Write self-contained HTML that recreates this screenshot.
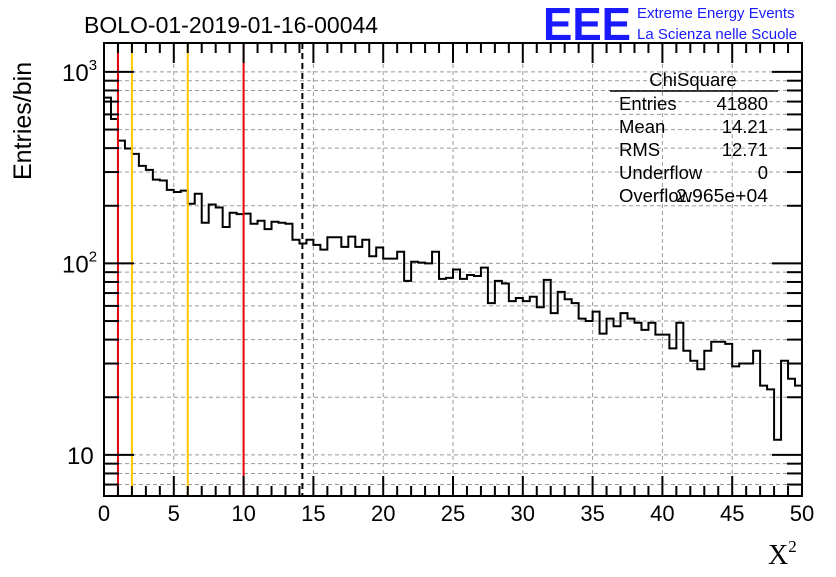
<!DOCTYPE html>
<html><head><meta charset="utf-8"><style>
body{margin:0;background:#fff;}
svg text{font-family:"Liberation Sans",sans-serif;}
</style></head><body>
<svg id="chart" width="836" height="572" xmlns="http://www.w3.org/2000/svg">
<rect width="836" height="572" fill="#fff"/>
<g id="grid"></g>
<g id="hist"></g>
<g id="vlines"></g>
<g id="axes"></g>
<text x="84" y="33" font-size="23">BOLO-01-2019-01-16-00044</text>
<text x="543" y="40" font-size="46" font-weight="bold" fill="#1a1aff" textLength="88" lengthAdjust="spacingAndGlyphs">EEE</text>
<text x="637" y="18" font-size="15" fill="#1a1aff">Extreme Energy Events</text>
<text x="637" y="39" font-size="15" fill="#1a1aff">La Scienza nelle Scuole</text>
<text transform="translate(31,180) rotate(-90)" font-size="25">Entries/bin</text>
<text x="768" y="564" font-size="28" style="font-family:'Liberation Serif',serif">X<tspan font-size="17" dy="-12">2</tspan></text>
<g font-size="18.5">
<text x="693" y="86" text-anchor="middle">ChiSquare</text>
<line x1="610" y1="91" x2="778" y2="91" stroke="#000" stroke-width="1.5"/>
<text x="619" y="110">Entries</text>
<text x="768" y="110" text-anchor="end">41880</text>
<text x="619" y="133">Mean</text>
<text x="768" y="133" text-anchor="end">14.21</text>
<text x="619" y="156">RMS</text>
<text x="768" y="156" text-anchor="end">12.71</text>
<text x="619" y="179">Underflow</text>
<text x="768" y="179" text-anchor="end">0</text>
<text x="619" y="202">Overflow</text>
<text x="676" y="202" textLength="92" lengthAdjust="spacingAndGlyphs">2.965e+04</text>
</g>
</svg>
<script>
const counts = [734,568,438,398,373,323,308,274,271,242,236,240,205,231,163,203,196,155,184,181,182,161,167,151,165,163,161,133,127,133,125,118,137,137,122,138,122,133,109,121,106,106,115,81,102,101,100,115,83,84,93,83,87,86,95,62,81,78.5,63.5,66,63.5,67,59,82,55,71,65,62,51.5,50,56,43,51.5,47,55,51.5,49,45,49,42.5,42.5,36,49,35,31,28,35,39,39,38,29,30,30,35,23,22,12,31,25,23];
const xTicks = [0,5,10,15,20,25,30,35,40,45,50];
const redCuts = [1,10];
const goldCuts = [2,6];
const meanValue = [14.21];
const NS='http://www.w3.org/2000/svg';
const L=104,R=802,T=43,B=496,xmin=0,xmax=50,lmin=Math.log10(6.1),lmax=Math.log10(1416);
const X=v=>L+(v-xmin)/(xmax-xmin)*(R-L);
const Y=v=>B-(Math.log10(v)-lmin)/(lmax-lmin)*(B-T);
function mk(tag,attrs,parent){const e=document.createElementNS(NS,tag);for(const k in attrs)e.setAttribute(k,attrs[k]);document.getElementById(parent).appendChild(e);return e;}
xTicks.forEach(t=>{if(t>xmin&&t<xmax){const g=mk('line',{x1:X(t),x2:X(t),y1:T,y2:B,stroke:'#999','stroke-dasharray':'4,3','stroke-width':1},'grid');

}});
const yGrid=[];for(let d=1;d<=1000;d*=10)for(let m=1;m<10;m++){const v=d*m;if(v>=6.1&&v<=1416)yGrid.push(v);}
yGrid.forEach(v=>{const g=mk('line',{x1:L,x2:R,y1:Y(v),y2:Y(v),stroke:'#999','stroke-dasharray':'4,3','stroke-width':1},'grid');

});
const bw=(xmax-xmin)/counts.length;let d='M'+X(0)+','+B;
counts.forEach((c,i)=>{d+=' L'+X(i*bw)+','+Y(c)+' L'+X((i+1)*bw)+','+Y(c);});
d+=' L'+X(xmax)+','+B;
const h=mk('path',{d:d,fill:'none',stroke:'#000','stroke-width':2},'hist');


redCuts.forEach(c=>{const l=mk('line',{x1:X(c),x2:X(c),y1:T,y2:B,stroke:'#e8000b','stroke-width':2},'vlines');

});
goldCuts.forEach(c=>{const l=mk('line',{x1:X(c),x2:X(c),y1:T,y2:B,stroke:'#ffc800','stroke-width':2},'vlines');

});
meanValue.forEach(c=>{const l=mk('line',{x1:X(c),x2:X(c),y1:T,y2:B,stroke:'#000','stroke-width':2,'stroke-dasharray':'6,4'},'vlines');

});
const fr=mk('rect',{x:L,y:T,width:R-L,height:B-T,fill:'none',stroke:'#000','stroke-width':2},'axes');


for(let v=0;v<=50;v++){const len=v%5===0?20:10;
mk('line',{x1:X(v),x2:X(v),y1:B,y2:B-len,stroke:'#000','stroke-width':2},'axes');
mk('line',{x1:X(v),x2:X(v),y1:T,y2:T+len,stroke:'#000','stroke-width':2},'axes');}
xTicks.forEach(t=>{const tx=mk('text',{x:X(t),y:521,'font-size':22,'text-anchor':'middle'},'axes');tx.textContent=t;

});
yGrid.forEach(v=>{const major=[10,100,1000].includes(v);const len=major?30:15;
mk('line',{x1:L,x2:L+len,y1:Y(v),y2:Y(v),stroke:'#000','stroke-width':2},'axes');
mk('line',{x1:R,x2:R-len,y1:Y(v),y2:Y(v),stroke:'#000','stroke-width':2},'axes');});
const yl=[['10',10,''],['10',100,'2'],['10',1000,'3']];
yl.forEach(a=>{const tx=mk('text',{x:a[2]?62:67,y:Y(a[1])+9,'font-size':24},'axes');tx.textContent=a[0];


if(a[2]){const s=document.createElementNS(NS,'tspan');s.setAttribute('font-size','15');s.setAttribute('dy','-11');s.textContent=a[2];tx.appendChild(s);}});
</script>
</body></html>
